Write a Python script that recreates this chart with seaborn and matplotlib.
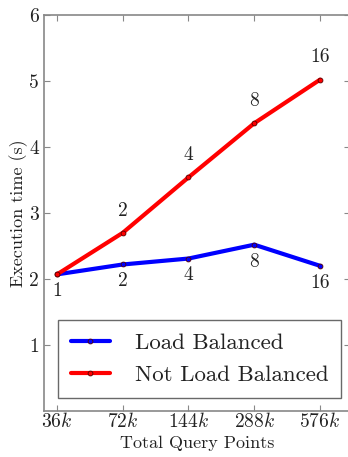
import matplotlib
matplotlib.use("Agg")
import matplotlib.pyplot as plt
import seaborn as sns
import pandas as pd

x_labels = ["36$k$", "72$k$", "144$k$", "288$k$", "576$k$"]
x_pos = [0, 1, 2, 3, 4]
load_balanced = [2.07, 2.22, 2.31, 2.52, 2.20]
not_load_balanced = [2.07, 2.70, 3.54, 4.36, 5.02]
lb_annot = ["1", "2", "4", "8", "16"]
nlb_annot = ["", "2", "4", "8", "16"]

sns.set_style("ticks")
plt.rcParams["font.family"] = ["cmr10"]
plt.rcParams["mathtext.fontset"] = "cm"
plt.rcParams["axes.unicode_minus"] = False
plt.rcParams["axes.formatter.use_mathtext"] = True

df = pd.DataFrame({
    "x": x_pos * 2,
    "time": load_balanced + not_load_balanced,
    "series": ["Load Balanced"] * 5 + ["Not Load Balanced"] * 5,
})

fig = plt.figure(figsize=(3.48, 4.57), dpi=100)
ax = fig.add_axes([44 / 348, 46 / 457, 305.5 / 348, 396 / 457])
sns.lineplot(data=df, x="x", y="time", hue="series",
             palette={"Load Balanced": "#0000ff", "Not Load Balanced": "#ff0000"},
             linewidth=3, marker="o", markersize=3.5, markeredgewidth=0.6,
             markeredgecolor="#550000", ax=ax)

for xi, y, t in zip(x_pos, load_balanced, lb_annot):
    ax.text(xi, y - 0.12, t, ha="center", va="top", fontsize=14, color="#222222")
for xi, y, t in zip(x_pos, not_load_balanced, nlb_annot):
    if t:
        ax.text(xi, y + 0.2, t, ha="center", va="bottom", fontsize=14, color="#222222")

ax.set_xlim(-0.198, 4.449)
ax.set_ylim(0, 6)
ax.set_xticks(x_pos)
ax.set_xticklabels(x_labels, fontsize=14)
ax.set_yticks([1, 2, 3, 4, 5, 6])
ax.set_yticklabels(["1", "2", "3", "4", "5", "6"], fontsize=14)
ax.tick_params(direction="in", length=4, color="#888888", labelcolor="#222222",
               top=True, right=True)
ax.tick_params(axis="x", pad=1)
ax.set_xlabel("Total Query Points", fontsize=13, color="#222222", labelpad=3)
ax.set_ylabel("Execution time (s)", fontsize=13, color="#222222", labelpad=1)
for s in ax.spines.values():
    s.set_color("#888888")
    s.set_linewidth(1.2)

leg = ax.legend(loc="lower left", bbox_to_anchor=(0.046, 0.033), borderaxespad=0,
                fontsize=16.5, frameon=True, fancybox=False, handlelength=1.7,
                borderpad=0.55, labelspacing=0.55, handletextpad=1.1)
leg.get_frame().set_edgecolor("#444444")
leg.get_frame().set_linewidth(1.0)
for line in leg.get_lines():
    line.set_linewidth(3)
for t in leg.get_texts():
    t.set_color("#222222")

fig.savefig("out.png", dpi=100)
